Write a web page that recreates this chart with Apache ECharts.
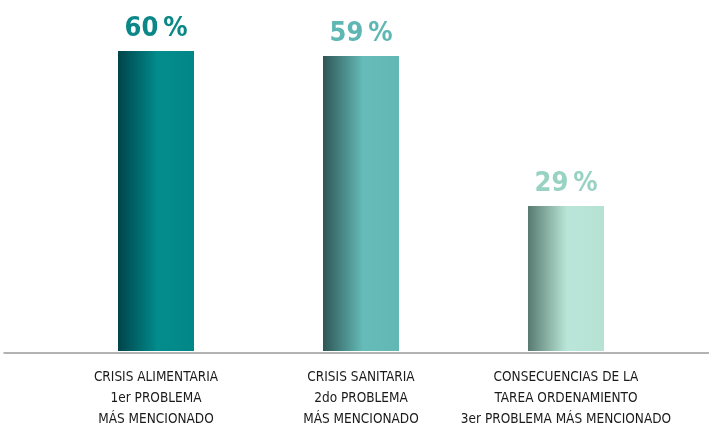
<!DOCTYPE html>
<html>
<head>
<meta charset="utf-8">
<script src="https://cdn.jsdelivr.net/npm/echarts@6/dist/echarts.min.js"></script>
<style>
html,body{margin:0;padding:0;background:#fff;}
#c{width:709px;height:430px;}
</style>
</head>
<body>
<div id="c"></div>
<script>
var categories = [
  'CRISIS ALIMENTARIA\n1er PROBLEMA\nMÁS MENCIONADO',
  'CRISIS SANITARIA\n2do PROBLEMA\nMÁS MENCIONADO',
  'CONSECUENCIAS DE LA\nTAREA ORDENAMIENTO\n3er PROBLEMA MÁS MENCIONADO'
];
var values = [60, 59, 29];
var labelColors = ['#0b8788', '#5fb7b4', '#98d2c3'];
var barGradients = [
  [['#00444a', 0], ['#018385', 0.46], ['#048c8d', 0.52], ['#028788', 1]],
  [['#2e5656', 0], ['#5fb2af', 0.48], ['#66bcb9', 0.53], ['#62b7b4', 1]],
  [['#587a70', 0], ['#b0dccd', 0.46], ['#b9e6d8', 0.52], ['#b5e2d3', 1]]
];

var FONT = '"DejaVu Sans Condensed", "Liberation Sans Narrow", sans-serif';

var chart = echarts.init(document.getElementById('c'));
var data = values.map(function (v, i) {
  return {
    value: v,
    itemStyle: {
      color: new echarts.graphic.LinearGradient(0, 0, 1, 0,
        barGradients[i].map(function (s) { return { offset: s[1], color: s[0] }; }))
    },
    label: { color: labelColors[i] }
  };
});

chart.setOption({
  animation: false,
  grid: [
    { left: 53.5, right: 40.5, top: 51, bottom: 77 },
    { left: 4, right: 0, top: 51, bottom: 77 }
  ],
  xAxis: [
    {
      type: 'category', gridIndex: 0, data: categories,
      axisLine: { show: false }, axisTick: { show: false },
      axisLabel: {
        margin: 16, interval: 0, fontFamily: FONT, fontSize: 13.5,
        color: '#1a1a1a', lineHeight: 21
      }
    },
    {
      type: 'value', gridIndex: 1, min: 0, max: 1,
      axisLine: { show: true, lineStyle: { color: '#9a9a9a', width: 1.5 } },
      axisTick: { show: false }, axisLabel: { show: false }, splitLine: { show: false }
    }
  ],
  yAxis: [
    { type: 'value', gridIndex: 0, min: 0, max: 60, show: false, splitLine: { show: false } },
    { type: 'value', gridIndex: 1, min: 0, max: 1, show: false, splitLine: { show: false } }
  ],
  series: [{
    type: 'bar', xAxisIndex: 0, yAxisIndex: 0,
    barWidth: 76, data: data,
    label: {
      show: true, position: 'top', distance: 9,
      fontFamily: FONT, fontSize: 27, fontWeight: 'bold',
      formatter: function (p) { return p.value + '\u2009%'; }
    }
  }]
});
</script>
</body>
</html>
